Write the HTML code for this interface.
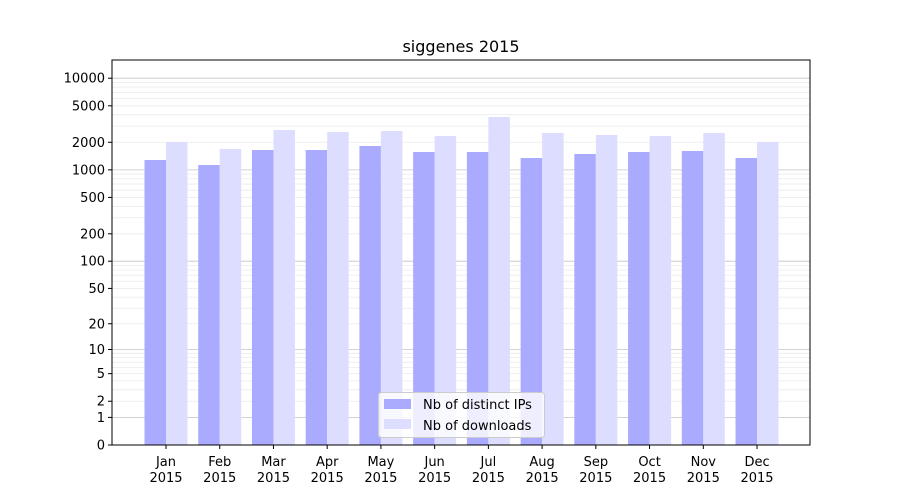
<!DOCTYPE html>
<html><head><meta charset="utf-8"><style>
html,body{margin:0;padding:0;background:#fff;}
svg{display:block;font-family:"DejaVu Sans","Liberation Sans",sans-serif;}
</style></head><body>
<svg id="s" width="900" height="500" xmlns="http://www.w3.org/2000/svg"></svg>
<script>
var s=document.getElementById('s');var h='';
var L=112,R=810,T=60,B=445,K=91.7;
function Y(v){return B-K*Math.log10(1+v);}
// minor gridlines
for(var n=0;n<4;n++)for(var k=2;k<10;k++){var y=Y(k*Math.pow(10,n));h+='<line x1="'+L+'" x2="'+R+'" y1="'+y+'" y2="'+y+'" stroke="#ebebeb" stroke-width="0.8"/>';}
[1,10,100,1000,10000].forEach(function(v){var y=Y(v);h+='<line x1="'+L+'" x2="'+R+'" y1="'+y+'" y2="'+y+'" stroke="#c4c4c4" stroke-width="0.8"/>';});
var d=[160,165,150,150,146,152,152,158,154,152,151,158];
var l=[142,149,130,132,131,136,117,133,135,136,133,142];
var m=['Jan','Feb','Mar','Apr','May','Jun','Jul','Aug','Sep','Oct','Nov','Dec'];
for(var i=0;i<12;i++){var c=166+i*53.73;
h+='<rect x="'+(c-21.5)+'" y="'+d[i]+'" width="21.5" height="'+(B-d[i])+'" fill="#aaaaff"/>';
h+='<rect x="'+c+'" y="'+l[i]+'" width="21.5" height="'+(B-l[i])+'" fill="#ddddff"/>';
h+='<line x1="'+c+'" x2="'+c+'" y1="'+B+'" y2="'+(B+4)+'" stroke="#000"/>';
h+='<text x="'+c+'" y="466" font-size="13" text-anchor="middle">'+m[i]+'</text>';
h+='<text x="'+c+'" y="482" font-size="13" text-anchor="middle">2015</text>';}
[0,1,2,5,10,20,50,100,200,500,1000,2000,5000,10000].forEach(function(v){var y=Y(v);
h+='<line x1="'+(L-4)+'" x2="'+L+'" y1="'+y+'" y2="'+y+'" stroke="#000"/>';
h+='<text x="'+(L-7)+'" y="'+(y+4.5)+'" font-size="13" text-anchor="end">'+v+'</text>';});
h+='<rect x="'+L+'" y="'+T+'" width="'+(R-L)+'" height="'+(B-T)+'" fill="none" stroke="#000" stroke-width="1"/>';
h+='<text x="461" y="52" font-size="16" text-anchor="middle">siggenes 2015</text>';
h+='<rect x="378.5" y="392.5" width="166" height="45" rx="3" fill="#fff" fill-opacity="0.8" stroke="#ccc"/>';
h+='<rect x="384" y="399" width="27" height="10" fill="#aaaaff"/><text x="423" y="409" font-size="13">Nb of distinct IPs</text>';
h+='<rect x="384" y="419" width="27" height="10" fill="#ddddff"/><text x="423" y="430" font-size="13">Nb of downloads</text>';
s.innerHTML=h;
</script>
</body></html>
